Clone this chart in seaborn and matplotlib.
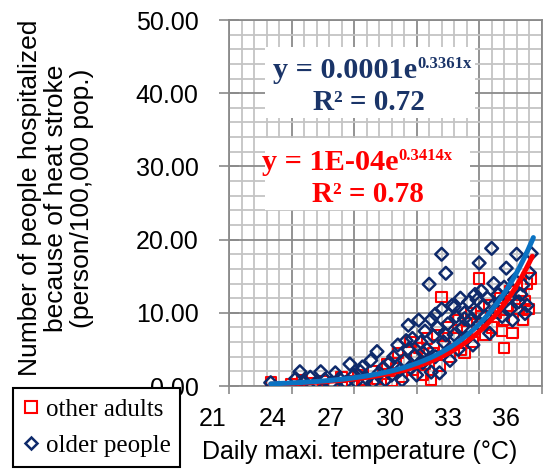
import numpy as np
import pandas as pd
import matplotlib
matplotlib.use("Agg")
import matplotlib.pyplot as plt
import matplotlib.transforms as mtransforms
from matplotlib.patches import Rectangle
from matplotlib.lines import Line2D
import seaborn as sns

# ---------------- data ----------------
older_x = [23.0, 24.2, 24.4, 24.6, 24.9, 25.2, 25.4, 25.6, 25.9, 26.1, 26.3, 26.6, 26.8, 27.0, 27.1,
           27.3, 27.4, 27.6, 27.8, 27.9, 28.1, 28.2, 28.4, 28.5, 28.7, 28.8, 28.9, 29.1, 29.2, 29.3,
           29.4, 29.6, 29.6, 29.7, 29.8, 29.9, 30.0, 30.1, 30.2, 30.3, 30.4, 30.5, 30.6, 30.7, 30.7,
           30.8, 30.9, 31.0, 31.1, 31.2, 31.2, 31.3, 31.4, 31.5, 31.6, 31.7, 31.8, 31.9, 32.0, 32.1,
           32.2, 32.3, 32.4, 32.5, 32.6, 32.7, 32.8, 32.9, 33.0, 33.0, 33.1, 33.2, 33.3, 33.4, 33.5,
           33.6, 33.7, 33.8, 33.9, 34.0, 34.1, 34.2, 34.3, 34.4, 34.5, 34.6, 34.7, 34.8, 34.9, 35.0,
           35.1, 35.2, 35.3, 35.5, 35.4, 30.9, 31.4, 31.8, 32.3, 32.9, 30.3, 29.5]
older_y = [0.45, 1.0, 1.95, 0.6, 1.2, 0.5, 1.95, 0.9, 0.4, 1.8, 1.0, 0.5, 3.0, 1.5, 0.6,
           2.0, 2.6, 1.0, 3.5, 0.5, 4.7, 1.8, 2.5, 0.8, 3.2, 1.5, 4.0, 5.6, 2.2, 0.8,
           3.5, 8.3, 5.0, 2.5, 6.5, 4.2, 1.5, 9.0, 6.0, 3.2, 7.5, 5.0, 13.9, 9.1, 1.9,
           6.8, 4.0, 8.0, 1.8, 18.0, 10.5, 6.0, 15.4, 8.5, 3.5, 11.0, 7.0, 9.5, 5.0, 12.0,
           8.0, 10.0, 6.5, 11.5, 9.0, 5.6, 12.5, 10.2, 16.8, 8.5, 13.0, 11.0, 9.5, 12.0, 7.2,
           18.8, 14.0, 10.5, 12.5, 11.5, 9.5, 13.5, 16.1, 12.0, 10.5, 9.0, 14.5, 18.0, 11.5, 12.5,
           13.8, 9.9, 11.0, 18.1, 15.5, 9.8, 7.0, 10.8, 9.2, 11.8, 4.6, 6.2]

adults_x = [23.0, 24.0, 24.5, 25.0, 25.5, 26.0, 26.4, 26.9, 27.2, 27.5, 27.9, 28.1, 28.4, 28.6, 28.8,
            29.0, 29.1, 29.3, 29.5, 29.7, 29.8, 30.0, 30.1, 30.3, 30.4, 30.5, 30.7, 30.8, 31.0, 31.1,
            31.2, 31.3, 31.5, 31.6, 31.8, 32.0, 32.1, 32.3, 32.4, 32.6, 32.7, 32.9, 33.0, 33.1, 33.3,
            33.5, 33.6, 33.8, 34.0, 34.1, 34.2, 34.2, 34.4, 34.5, 34.6, 34.8, 35.0, 35.1, 35.2, 35.3,
            35.5, 35.4]
adults_y = [0.5, 0.3, 0.8, 0.4, 0.7, 0.3, 1.2, 0.6, 1.5, 0.8, 2.0, 1.0, 1.6, 3.0, 0.7,
            2.5, 4.5, 1.2, 3.5, 6.0, 2.2, 4.0, 5.2, 1.5, 3.0, 6.5, 0.8, 4.5, 7.0, 2.8,
            12.2, 5.5, 8.0, 4.0, 6.5, 9.0, 5.0, 4.5, 7.5, 10.0, 6.0, 8.5, 14.7, 9.5, 7.0,
            11.0, 8.0, 10.0, 12.0, 7.5, 5.2, 9.0, 11.0, 13.0, 7.2, 10.5, 12.5, 9.0, 11.6, 14.0,
            14.7, 10.5]

# exponential trendlines y = a*exp(b*x)
older_a, older_b = 1.29e-4, 0.3361
adults_a, adults_b = 0.95e-4, 0.3414
older_range = [23.0, 35.6]
adults_range = [23.0, 35.55]

x_ticks = [21, 24, 27, 30, 33, 36]
y_ticks = [0, 10, 20, 30, 40, 50]

legend_labels = ["other adults", "older people"]
eq_older = ["y = 0.0001e", "0.3361x", "R\u00b2 = 0.72"]
eq_adults = ["y = 1E-04e", "0.3414x", "R\u00b2 = 0.78"]
x_label = "Daily maxi. temperature (\u00b0C)"
y_label = "Number of people hospitalized\nbecause of heat stroke\n(person/100,000 pop.)"

# ---------------- style ----------------
sns.set_style("white")
plt.rcParams["font.family"] = ["Liberation Sans", "DejaVu Sans"]
plt.rcParams["text.color"] = "black"
plt.rcParams["xtick.labelcolor"] = "black"
plt.rcParams["ytick.labelcolor"] = "black"

W, H = 558, 469
fig = plt.figure(figsize=(W / 100, H / 100), dpi=100)
L, R, T, B = 229, 541.7, 20, 386
ax = fig.add_axes([L / W, 1 - B / H, (R - L) / W, (B - T) / H])

NAVY = "#0E2A6B"
NAVY_T = "#1A3468"
RED = "#FF0000"
BLUE = "#0A72C2"

df_ad = pd.DataFrame({"x": adults_x, "y": adults_y})
df_old = pd.DataFrame({"x": older_x, "y": older_y})

sns.scatterplot(data=df_ad, x="x", y="y", ax=ax, marker="s", s=55,
                facecolor="none", edgecolor=RED, linewidth=1.5, zorder=3)
sns.scatterplot(data=df_old, x="x", y="y", ax=ax, marker="D", s=42,
                facecolor="none", edgecolor=NAVY, linewidth=1.8, zorder=4)

xa = np.linspace(adults_range[0], adults_range[1], 200)
xo = np.linspace(older_range[0], older_range[1], 200)
df_ta = pd.DataFrame({"x": xa, "y": adults_a * np.exp(adults_b * xa)})
df_to = pd.DataFrame({"x": xo, "y": older_a * np.exp(older_b * xo)})
sns.lineplot(data=df_ta, x="x", y="y", ax=ax, color=RED, linewidth=3.6, zorder=5,
             solid_capstyle="round")
sns.lineplot(data=df_to, x="x", y="y", ax=ax, color=BLUE, linewidth=3.6, zorder=6,
             solid_capstyle="round")

ax.set_xlim(21, 36)
ax.set_ylim(0, 50)
ax.set_xticks(x_ticks)
ax.set_xticks(np.arange(21, 36.01, 0.6), minor=True)
ax.set_yticks(y_ticks)
ax.set_yticks(np.arange(0, 50.01, 2), minor=True)
ax.set_yticklabels([f"{v:.2f}" for v in y_ticks])
ax.set_xticklabels([str(v) for v in x_ticks])
ax.set_xlabel("")
ax.set_ylabel("")

ax.set_axisbelow(True)
ax.grid(which="major", color="#8A8A8A", linewidth=1.3)
ax.grid(which="minor", color="#C4C4C4", linewidth=1.3)
for sp in ax.spines.values():
    sp.set_color("#8A8A8A")
    sp.set_linewidth(1.3)

ax.tick_params(axis="y", which="major", direction="inout", length=14, width=1.2,
               color="#8A8A8A", labelcolor="black", labelsize=18, pad=15, left=True)
ax.tick_params(axis="y", which="minor", left=False)
ax.tick_params(axis="x", which="major", direction="out", length=6, width=1.2,
               color="#8A8A8A", labelcolor="black", labelsize=18, pad=9, bottom=True)
ax.tick_params(axis="x", which="minor", bottom=False)

# shift x tick labels to the positions seen in the reference
offsets = [-16, -18.5, -23, -26.5, -31, -35.5]
for lbl, dx in zip(ax.get_xticklabels(), offsets):
    lbl.set_transform(lbl.get_transform() +
                      mtransforms.ScaledTranslation(dx / 100, 0, fig.dpi_scale_trans))

fig.text(360 / W, 1 - 452 / H, x_label, ha="center", va="center", fontsize=18, color="black")
fig.text(56 / W, 1 - 198 / H, y_label, ha="center", va="center", rotation=90,
         fontsize=19, linespacing=1.12, multialignment="center", color="black")

# equation boxes
fig.add_artist(Rectangle((265 / W, 1 - 118 / H), 210 / W, 71 / H,
                         transform=fig.transFigure, facecolor="white", edgecolor="none", zorder=8))
fig.add_artist(Rectangle((265 / W, 1 - 210 / H), 205 / W, 72 / H,
                         transform=fig.transFigure, facecolor="white", edgecolor="none", zorder=8))

serif = ["Liberation Serif", "DejaVu Serif"]


def equation(lines, color, x_right, base1, base2, x2):
    fig.text(x_right / W, 1 - base1 / H, lines[0], ha="right", va="baseline",
             fontsize=21.8, fontweight="bold", family=serif, color=color, zorder=9)
    fig.text(x_right / W, 1 - (base1 - 10) / H, lines[1], ha="left", va="baseline",
             fontsize=12, fontweight="bold", family=serif, color=color, zorder=9)
    fig.text(x2 / W, 1 - base2 / H, lines[2], ha="center", va="baseline",
             fontsize=21, fontweight="bold", family=serif, color=color, zorder=9)


equation(eq_older, NAVY_T, 417, 78, 110, 369)
equation(eq_adults, RED, 398, 170, 202, 368)

# legend
handles = [Line2D([], [], marker="s", linestyle="none", markersize=8,
                  markerfacecolor="none", markeredgecolor=RED, markeredgewidth=1.5),
           Line2D([], [], marker="D", linestyle="none", markersize=6.5,
                  markerfacecolor="none", markeredgecolor=NAVY, markeredgewidth=1.8)]
leg = fig.legend(handles, legend_labels, loc="upper left",
                 bbox_to_anchor=(13 / W, 1 - 388 / H), bbox_transform=fig.transFigure,
                 prop={"family": serif, "size": 18}, frameon=True, fancybox=False,
                 edgecolor="black", framealpha=1, borderpad=0.4, handlelength=0.6,
                 handletextpad=0.3, labelspacing=0.55, borderaxespad=0)
leg.get_frame().set_linewidth(1.5)
leg.set_zorder(10)
for t in leg.get_texts():
    t.set_color("black")

fig.savefig("out.png", dpi=100)
